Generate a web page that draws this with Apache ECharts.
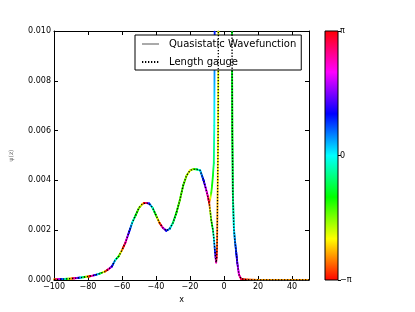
<!DOCTYPE html>
<html><head><meta charset="utf-8">
<script src="https://cdn.jsdelivr.net/npm/echarts@6/dist/echarts.min.js"></script>
<style>html,body{margin:0;padding:0;background:#fff}#c{width:415px;height:312px}</style>
</head><body><div id="c"></div>
<script>
// ---- data (phase in units of pi) ----
const xCommon = [-100,-97,-94,-91,-88,-85,-82,-79,-76,-73,-70,-68,-66,-64,-62,-60,-58,-56,-54,-52,-50,-48,-47,-46,-44,-42,-40,-38,-36,-34,-32,-30,-28,-26,-24,-22,-20,-18,-16,-14,-12,-10,-9,-8.7];
const yCommon = [0.00002,0.00003,0.00004,0.00005,0.00007,0.00009,0.00012,0.00015,0.0002,0.00026,0.00034,0.00043,0.00054,0.0008,0.00095,0.0012,0.0015,0.0019,0.0023,0.0026,0.0029,0.00305,0.00309,0.0031,0.00307,0.0029,0.0026,0.0023,0.0021,0.00198,0.00205,0.0023,0.0027,0.0032,0.0038,0.0042,0.0044,0.00445,0.00444,0.0044,0.0040,0.0035,0.0032,0.0031];
const phCommon = [-0.8,0.6,0.0,-0.6,0.8,0.2,-0.4,1.0,0.4,-0.2,-0.8,0.8,0.4,0.0,-0.4,-0.8,0.8,0.4,0.0,-0.3,-0.5,-0.7,-1.0,0.9,0.3,-0.1,-0.4,-0.85,0.7,0.35,0.1,-0.2,-0.35,-0.45,-0.4,-0.55,-0.65,-0.5,-0.2,0.05,0.35,0.7,0.9,-0.95];

const xQsSpike = [-8,-7.5,-7,-6.5,-6,-5.7,-5.5,-5,-3,0,3,4.5];
const yQsSpike = [0.0033,0.0035,0.0038,0.0042,0.0047,0.0062,0.0100,0.0160,0.0250,0.0300,0.0250,0.0120];
const phQsSpike = [-0.65,-0.4,-0.35,-0.3,-0.2,-0.05,0.3,0.35,0.3,0.0,-0.2,-0.3];

const xLgSpike = [-8,-7.5,-7,-6.5,-6,-5.5,-5,-4.6,-4.3,-4.1,-3.9,-3.7,-3.5,-3.3,-2.5,0,3,4.5];
const yLgSpike = [0.0027,0.0024,0.0022,0.0020,0.0017,0.0013,0.0009,0.0007,0.0009,0.0013,0.0025,0.0040,0.0055,0.0100,0.0200,0.0300,0.0250,0.0120];
const phLgSpike = [-0.55,-0.45,-0.35,-0.2,-0.05,0.2,0.5,0.75,0.95,-0.9,-0.8,-0.7,-0.65,-0.62,-0.6,-0.4,-0.3,-0.3];

const xTail = [4.7,4.9,5.2,5.8,6.4,7.2,7.8,8.8,10,11,14,20,30,40,50];
const yTail = [0.0100,0.0060,0.0035,0.0021,0.0016,0.0011,0.0007,0.00022,0.00005,0.00002,0.00001,0,0,0,0];
const phTail = [-0.3,-0.3,-0.2,0.0,0.15,0.3,0.45,0.7,0.9,1.0,-0.9,-0.8,-0.8,-0.8,-0.8];

const seriesNames = ['Quasistatic Wavefunction','Length gauge'];
const colorbarLabels = {'-1':'\u2212\u03c0','0':'0','1':'\u03c0'};

// ---- helpers ----
function hsvColor(h){
  h = ((h % 360) + 360) % 360;
  const c = 1, xx = c * (1 - Math.abs((h / 60) % 2 - 1));
  let r=0,g=0,b=0;
  if (h < 60) {r=c;g=xx;} else if (h < 120) {r=xx;g=c;} else if (h < 180) {g=c;b=xx;}
  else if (h < 240) {g=xx;b=c;} else if (h < 300) {r=xx;b=c;} else {r=c;b=xx;}
  return 'rgb(' + Math.round(r*255) + ',' + Math.round(g*255) + ',' + Math.round(b*255) + ')';
}
function phaseHue(p){ return (p + 1) * 180; }

function buildSegs(xs, ys, ps){
  const out = [];
  for (let i = 0; i < xs.length - 1; i++) out.push([xs[i], ys[i], xs[i+1], ys[i+1], ps[i], ps[i+1]]);
  return out;
}
const qsX = xCommon.concat(xQsSpike, xTail), qsY = yCommon.concat(yQsSpike, yTail), qsP = phCommon.concat(phQsSpike, phTail);
const lgX = xCommon.concat(xLgSpike, xTail), lgY = yCommon.concat(yLgSpike, yTail), lgP = phCommon.concat(phLgSpike, phTail);

function renderSeg(params, api){
  const a = api.coord([api.value(0), api.value(1)]);
  const b = api.coord([api.value(2), api.value(3)]);
  const h0 = phaseHue(api.value(4));
  let d = phaseHue(api.value(5)) - h0;
  if (d > 180) d -= 360; if (d < -180) d += 360;
  const stops = [];
  for (let k = 0; k <= 4; k++) stops.push({offset: k/4, color: hsvColor(h0 + d*k/4)});
  const same = Math.abs(a[0]-b[0]) + Math.abs(a[1]-b[1]) < 0.01;
  return {
    type: 'line',
    shape: {x1: a[0], y1: a[1], x2: b[0], y2: b[1]},
    style: {
      stroke: same ? stops[0].color : {type:'linear', x:a[0], y:a[1], x2:b[0], y2:b[1], global:true, colorStops:stops},
      lineWidth: 1.8, lineCap: 'round'
    }
  };
}
function renderBar(params, api){
  const cs = params.coordSys;
  const stops = [];
  for (let k = 0; k <= 12; k++) stops.push({offset: k/12, color: hsvColor(phaseHue(1 - 2*k/12))});
  return {
    type: 'rect',
    shape: {x: cs.x, y: cs.y, width: cs.width, height: cs.height},
    style: {fill: {type:'linear', x:0, y:0, x2:0, y2:1, colorStops: stops}, stroke: '#000', lineWidth: 1}
  };
}

const font = 'DejaVu Sans';
const minus = v => String(v).replace('-', '\u2212');
const axisCommon = {
  axisLine: {show: true, onZero: false, lineStyle: {color: '#000', width: 1}},
  axisTick: {show: true, inside: true, length: 4, lineStyle: {color: '#000'}},
  splitLine: {show: false}
};

const chart = echarts.init(document.getElementById('c'));
chart.setOption({
  animation: false,
  backgroundColor: '#fff',
  textStyle: {fontFamily: font},
  grid: [
    {left: 52, right: 106, top: 31, bottom: 32},
    {left: 325, width: 13, top: 31, bottom: 32}
  ],
  legend: {
    data: seriesNames,
    orient: 'vertical', left: 135, top: 35,
    backgroundColor: '#fff', borderColor: '#000', borderWidth: 1, borderRadius: 0,
    padding: [4, 5, 3, 6], itemGap: 8, itemWidth: 17, itemHeight: 10,
    itemStyle: {opacity: 0},
    textStyle: {fontSize: 10, color: '#000', fontFamily: font, padding: [0,0,0,5]}
  },
  xAxis: [
    Object.assign({gridIndex: 0, type: 'value', position: 'bottom', min: -100, max: 50, interval: 20,
      name: 'x', nameLocation: 'middle', nameGap: 10, nameTextStyle: {fontSize: 8, color: '#000'},
      axisLabel: {fontSize: 8, color: '#000', margin: 3, showMaxLabel: false, formatter: minus}}, axisCommon),
    Object.assign({gridIndex: 0, type: 'value', position: 'top', min: -100, max: 50, interval: 20,
      axisLabel: {show: false}}, axisCommon),
    {gridIndex: 1, type: 'value', min: 0, max: 1, show: false}
  ],
  yAxis: [
    Object.assign({gridIndex: 0, type: 'value', position: 'left', min: 0, max: 0.01, interval: 0.002,
      name: '\u03c8(z)', nameLocation: 'middle', nameGap: 40, nameRotate: 90,
      nameTextStyle: {fontSize: 6, color: '#666'},
      axisLabel: {fontSize: 8, color: '#000', margin: 3, formatter: v => v.toFixed(3)}}, axisCommon),
    Object.assign({gridIndex: 0, type: 'value', position: 'right', min: 0, max: 0.01, interval: 0.002,
      axisLabel: {show: false}}, axisCommon),
    {gridIndex: 1, type: 'value', position: 'right', min: -Math.PI, max: Math.PI, interval: Math.PI,
      axisLine: {show: false, onZero: false}, splitLine: {show: false},
      axisTick: {show: true, inside: false, length: 3, lineStyle: {color: '#000'}},
      axisLabel: {fontSize: 8, color: '#000', margin: 2,
        formatter: v => colorbarLabels[String(Math.round(v / Math.PI))]}}
  ],
  series: [
    {name: seriesNames[0], type: 'line', xAxisIndex: 0, yAxisIndex: 0, symbol: 'none', z: 1,
      lineStyle: {color: '#aaa', width: 1}, itemStyle: {color: '#aaa'},
      data: qsX.map((x, i) => [x, qsY[i]])},
    {type: 'custom', xAxisIndex: 0, yAxisIndex: 0, z: 2, clip: true, renderItem: renderSeg,
      encode: {x: [0, 2], y: [1, 3]}, data: buildSegs(qsX, qsY, qsP), silent: true},
    {type: 'custom', xAxisIndex: 0, yAxisIndex: 0, z: 3, clip: true, renderItem: renderSeg,
      encode: {x: [0, 2], y: [1, 3]}, data: buildSegs(lgX, lgY, lgP), silent: true},
    {name: seriesNames[1], type: 'line', xAxisIndex: 0, yAxisIndex: 0, symbol: 'none', z: 4,
      lineStyle: {color: '#000', width: 1.3, type: [1.3, 1.7]}, itemStyle: {color: '#000'},
      data: lgX.map((x, i) => [x, lgY[i]])},
    {type: 'custom', xAxisIndex: 2, yAxisIndex: 2, renderItem: renderBar, data: [[0]], silent: true}
  ]
});
</script>
</body></html>
